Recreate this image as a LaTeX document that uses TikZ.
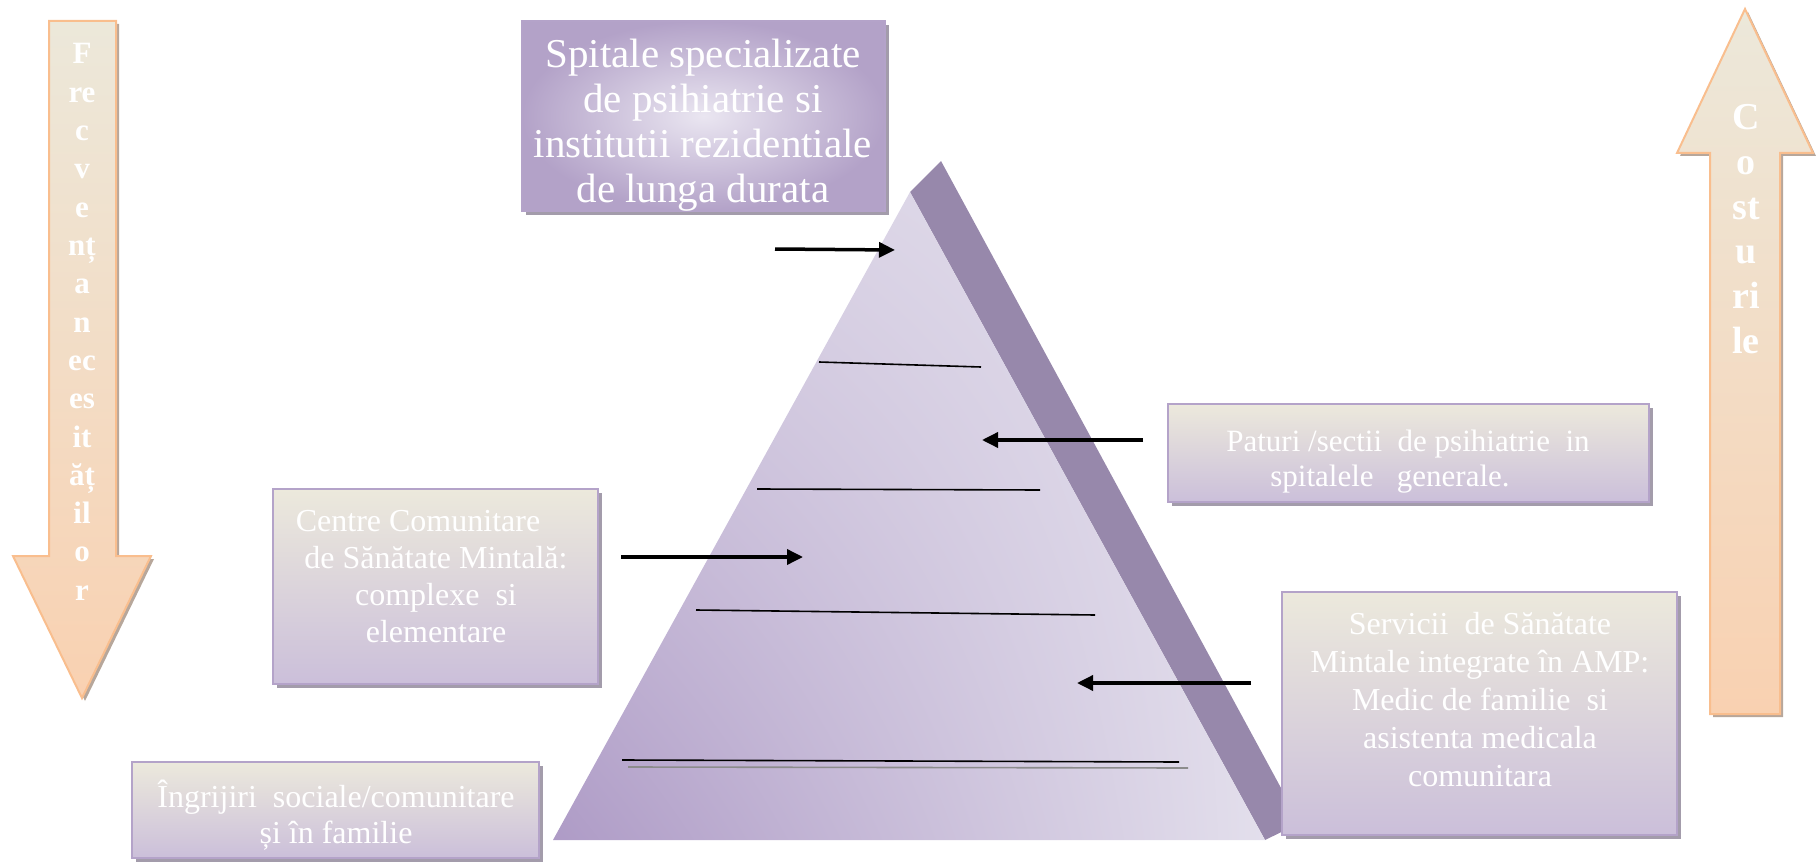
\documentclass[tikz,border=0pt]{standalone}
\usepackage{fontspec}
\setmainfont{Liberation Serif}
\usetikzlibrary{arrows.meta,shadows,shadings}
\definecolor{bxborder}{HTML}{B4A3C9}
\definecolor{bxtop}{HTML}{ECE9DC}
\definecolor{bxbot}{HTML}{CBBFDA}
\definecolor{bxshadow}{HTML}{A39CAB}
\definecolor{arborder}{HTML}{F9BE8E}
\definecolor{artop}{HTML}{ECE8DA}
\definecolor{arbot}{HTML}{F9D1B1}
\definecolor{arshadow}{HTML}{B7A79B}
\definecolor{pdark}{HTML}{AE9BC6}
\definecolor{plight}{HTML}{E3DFEC}
\definecolor{pmid}{HTML}{D6CEE2}
\definecolor{pside}{HTML}{9788AB}
\definecolor{tdark}{HTML}{B3A2C8}
\definecolor{tlight}{HTML}{EAE6F1}
\begin{document}
\begin{tikzpicture}[x=1pt,y=-1pt,
  bx/.style={draw=bxborder, line width=2pt, top color=bxtop, bottom color=bxbot, inner sep=0pt,
    drop shadow={shadow xshift=4pt, shadow yshift=-4pt, fill=bxshadow, opacity=1}},
  topbx/.style={draw=bxborder, line width=2pt, inner color=tlight, outer color=tdark, inner sep=0pt,
    drop shadow={shadow xshift=4pt, shadow yshift=-4pt, fill=bxshadow, opacity=1}},
  bxtext/.style={text=white, align=center, inner sep=0pt},
  bigarrow/.style={draw=arborder, line width=2pt, top color=artop, bottom color=arbot,
    drop shadow={shadow xshift=3pt, shadow yshift=-3pt, fill=arshadow, opacity=1}},
  arrtext/.style={text=white, font=\bfseries, anchor=base, inner sep=0pt},
  ptr/.style={line width=3.5pt, -{Triangle[length=16pt,width=15pt]}},
  tier/.style={line width=1.6pt, black}
]
\useasboundingbox (0,0) rectangle (1816,864);

% --- big side arrows ---
\path[bigarrow] (49,21) -- (116,21) -- (116,556) -- (151,556) -- (82,698) -- (13,556) -- (49,556) -- cycle;
\path[bigarrow] (1745,9) -- (1813,153) -- (1780,153) -- (1780,714) -- (1710,714) -- (1710,153) -- (1677,153) -- cycle;

\foreach \t [count=\i from 0] in {F,re,c,v,e,nț,a,n,ec,es,it,ăț,il,o,r}
  \node[arrtext, font=\fontsize{31}{31}\selectfont\bfseries] (fr\i) at (82,{64+38.3*\i}) {\t};
\foreach \t [count=\i from 0] in {C,o,st,u,ri,le}
  \node[arrtext, font=\fontsize{38}{38}\selectfont\bfseries] (co\i) at (1746,{130+44.6*\i}) {\t};

% --- pyramid ---
\fill[pside] (910,192) -- (941,161) -- (1300,823) -- (1265,840) -- cycle;
\shade[lower left=pdark, lower right=plight, upper left=pmid, upper right=plight]
  (910,192) -- (553,840) -- (1265,840) -- cycle;

\draw[tier] (819,362) -- (981,367);
\draw[tier] (757,489) -- (1040,490);
\draw[tier] (696,610) -- (1095,615);
\draw[line width=1.6pt, black!45] (628,767) -- (1188,768);
\draw[tier] (622,760) -- (1179,762);

% --- boxes ---
\node[topbx, minimum width=363pt, minimum height=190pt] (b1) at (703.5,116) {};
\node[bx, minimum width=481pt, minimum height=98pt] (b2) at (1408.5,453) {};
\node[bx, minimum width=325pt, minimum height=195pt] (b3) at (435.5,586.5) {};
\node[bx, minimum width=395pt, minimum height=243pt] (b4) at (1479.5,713.5) {};
\node[bx, minimum width=407pt, minimum height=96pt] (b5) at (335.5,810) {};

\node[bxtext, font=\fontsize{41}{45}\selectfont] (t1) at (703,125)
  {Spitale specializate\\de psihiatrie si\\institutii rezidentiale\\de lunga durata};
\node[bxtext, font=\fontsize{31}{35}\selectfont] (t2) at (1408,462)
  {Paturi /sectii\ \ de psihiatrie\ \ in\\spitalele\ \ \ generale.\hspace*{36pt}};
\node[bxtext, font=\fontsize{32}{37}\selectfont] (t3) at (436,577)
  {Centre Comunitare\hspace*{36pt}\\de Sănătate Mintală:\\complexe\ \ si\\elementare};
\node[bxtext, font=\fontsize{32}{38}\selectfont] (t4) at (1480,700)
  {Servicii\ \ de Sănătate\\Mintale integrate în AMP:\\Medic de familie\ \ si\\asistenta medicala\\comunitara};
\node[bxtext, font=\fontsize{32}{36}\selectfont] (t5) at (336,815)
  {Îngrijiri\ \ sociale/comunitare\\și în familie};

% --- pointer arrows ---
\coordinate (a1s) at (775,249); \coordinate (a1e) at (895,250);
\coordinate (a2s) at (1143,440); \coordinate (a2e) at (982,440);
\coordinate (a3s) at (621,557); \coordinate (a3e) at (803,557);
\coordinate (a4s) at (1251,683); \coordinate (a4e) at (1077,683);
\draw[ptr] (a1s) -- (a1e);
\draw[ptr] (a2s) -- (a2e);
\draw[ptr] (a3s) -- (a3e);
\draw[ptr] (a4s) -- (a4e);
\end{tikzpicture}
\end{document}
